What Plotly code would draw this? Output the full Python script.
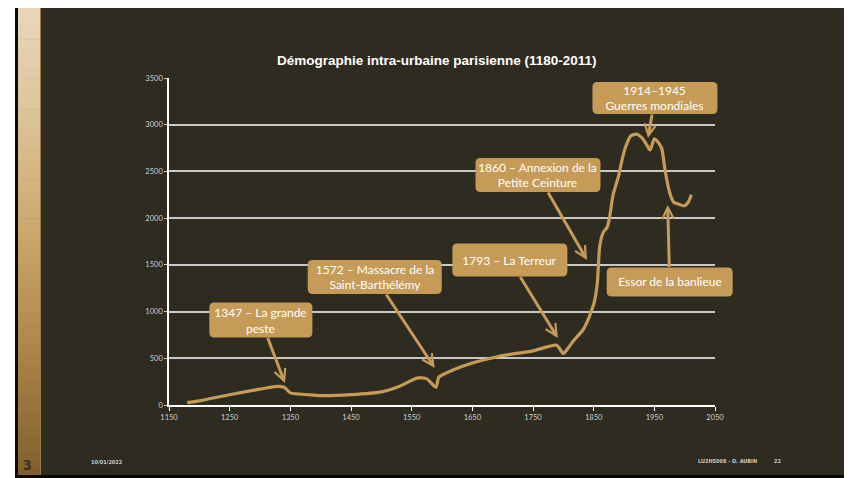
import plotly.graph_objects as go

# ---- data (population in thousands) ----
years = [1180, 1200, 1250, 1300, 1328, 1340, 1350, 1380, 1400, 1450, 1500, 1530,
         1560, 1575, 1590, 1595, 1620, 1650, 1680, 1700, 1750, 1789, 1800, 1808,
         1817, 1832, 1840, 1846, 1851, 1856, 1860, 1866, 1872, 1876, 1882, 1891,
         1896, 1902, 1911, 1921, 1926, 1931, 1936, 1943, 1950, 1954, 1962, 1968,
         1975, 1982, 1990, 1999, 2006, 2011]
population = [25, 45, 110, 170, 200, 190, 130, 110, 100, 110, 140, 200,
              290, 280, 190, 300, 380, 450, 500, 530, 580, 640, 550, 610,
              690, 800, 900, 1000, 1100, 1300, 1700, 1850, 1900, 2000, 2250, 2450,
              2600, 2750, 2880, 2900, 2880, 2850, 2800, 2730, 2850, 2830, 2750, 2500,
              2280, 2170, 2150, 2130, 2170, 2250]

x_ticks = [1150, 1250, 1350, 1450, 1550, 1650, 1750, 1850, 1950, 2050]
y_ticks = [0, 500, 1000, 1500, 2000, 2500, 3000, 3500]

# annotations: text, arrow-tip (year, value), box centre offset (px), box size (px)
ann_texts = ["1347 – La grande<br>peste",
             "1572 – Massacre de la<br>Saint-Barthélémy",
             "1793 – La Terreur",
             "1860 – Annexion de la<br>Petite Ceinture",
             "1914–1945<br>Guerres mondiales",
             "Essor de la banlieue"]
ann_x = [1341, 1588, 1791, 1839, 1939.5, 1972]
ann_y = [235, 396, 717, 1552, 2858, 2141]
ann_ax = [-24, -60, -48, -49, 7, 2]
ann_ay = [-63, -91, -78, -85, -40, 77]
ann_w = [103, 134, 115, 125, 125, 126]
ann_h = [35, 34, 33, 34, 32, 29]

# ---- geometry (reference pixel coords; page body has an 8px margin) ----
OFF = 8
W, H = 852, 478
L, R, T, B = 169, 715, 78, 405
XMIN, XMAX, YMIN, YMAX = 1150, 2050, 0, 3500

def pxx(px):
    return (px - L) / (R - L)

def pyy(py):
    return (B - py) / (B - T)

def dx2px(x):
    return L + (x - XMIN) / (XMAX - XMIN) * (R - L)

def dy2px(y):
    return B - (y - YMIN) / (YMAX - YMIN) * (B - T)

TAN = "#C69B58"
BG = "#2E2B21"

shapes = []
# slide frame
shapes.append(dict(type="rect", xref="paper", yref="paper", x0=pxx(15), x1=pxx(W + 5),
                   y0=pyy(H + 5), y1=pyy(5), fillcolor="#0A0A08", line_width=0, layer="below"))
shapes.append(dict(type="rect", xref="paper", yref="paper", x0=pxx(18), x1=pxx(W + 5),
                   y0=pyy(475), y1=pyy(8), fillcolor=BG, line_width=0, layer="below"))

# gradient strip on the left
stops = [(0.0, (233, 215, 186)), (0.25, (220, 193, 150)), (0.5, (202, 165, 106)),
         (0.75, (170, 131, 72)), (1.0, (128, 94, 44))]

def grad(t):
    for (t0, c0), (t1, c1) in zip(stops[:-1], stops[1:]):
        if t <= t1:
            f = (t - t0) / (t1 - t0) if t1 > t0 else 0
            return "rgb(%d,%d,%d)" % tuple(round(a + (b - a) * f) for a, b in zip(c0, c1))
    return "rgb(%d,%d,%d)" % stops[-1][1]

N = 60
top, bot = 8, 475
for i in range(N):
    y0 = top + (bot - top) * i / N
    y1 = top + (bot - top) * (i + 1) / N + 0.6
    shapes.append(dict(type="rect", xref="paper", yref="paper", x0=pxx(18), x1=pxx(41),
                       y0=pyy(min(y1, bot)), y1=pyy(y0), fillcolor=grad((i + 0.5) / N),
                       line_width=0, layer="below"))
shapes.append(dict(type="line", xref="paper", yref="paper", x0=pxx(40.5), x1=pxx(40.5),
                   y0=pyy(bot), y1=pyy(top), line=dict(color="#9C7A48", width=1), layer="below"))

# rounded boxes for annotations
def rounded(cx, cy, w, h, r=5):
    x0, x1 = cx - w / 2, cx + w / 2
    y0, y1 = cy - h / 2, cy + h / 2
    p = lambda x, y: "%.5f,%.5f" % (pxx(x), pyy(y))
    return ("M" + p(x0 + r, y0) + " L" + p(x1 - r, y0) + " Q" + p(x1, y0) + " " + p(x1, y0 + r) +
            " L" + p(x1, y1 - r) + " Q" + p(x1, y1) + " " + p(x1 - r, y1) +
            " L" + p(x0 + r, y1) + " Q" + p(x0, y1) + " " + p(x0, y1 - r) +
            " L" + p(x0, y0 + r) + " Q" + p(x0, y0) + " " + p(x0 + r, y0) + " Z")

annotations = []
for t, x, y, ax, ay, w, h in zip(ann_texts, ann_x, ann_y, ann_ax, ann_ay, ann_w, ann_h):
    cx = dx2px(x) + ax
    cy = dy2px(y) + ay
    shapes.append(dict(type="path", xref="paper", yref="paper", path=rounded(cx, cy, w, h),
                       fillcolor=TAN, line=dict(width=0), layer="above"))
    annotations.append(dict(x=x, y=y, xref="x", yref="y", ax=ax, ay=ay, text=t,
                            showarrow=True, arrowhead=5, arrowsize=0.75, arrowwidth=3,
                            arrowcolor=TAN, standoff=0, width=w, height=h, borderpad=0,
                            bgcolor="rgba(0,0,0,0)", align="center", valign="middle",
                            font=dict(family="Lato, Noto Sans, sans-serif", size=12,
                                      color="#FFFFFF")))

def label(text, x, y, font):
    return dict(text=text, xref="paper", yref="paper", x=pxx(x), y=pyy(y), showarrow=False,
                xanchor="center", yanchor="middle", font=font)

# title
annotations.append(label("<b>Démographie intra-urbaine parisienne (1180-2011)</b>", 437, 60,
                         dict(family="Liberation Sans, Arial, sans-serif", size=13.5,
                              color="#FFFFFF")))
# footer
foot = dict(family="DejaVu Sans Condensed, DejaVu Sans, sans-serif", size=5.5, color="#C8C8C8")
annotations.append(label("<b>10/01/2022</b>", 107, 462, foot))
annotations.append(label("<b>LU2HS008 - D. AUBIN</b>", 727, 461, foot))
annotations.append(label("<b>22</b>", 777, 461, foot))
annotations.append(label("<b>3</b>", 28, 465,
                         dict(family="DejaVu Sans Condensed, DejaVu Sans, sans-serif", size=14,
                              color="#3A3224")))

fig = go.Figure()
fig.add_trace(go.Scatter(x=years, y=population, mode="lines",
                         line=dict(color=TAN, width=3.2, shape="spline", smoothing=0.6),
                         hoverinfo="skip", showlegend=False))

tickfont = dict(family="Lato, Noto Sans, sans-serif", size=7.5, color="#CFCFCF")
fig.update_layout(
    width=W - OFF, height=H - OFF,
    margin=dict(l=L - OFF, r=W - R, t=T - OFF, b=H - B, pad=0),
    paper_bgcolor="#FFFFFF",
    plot_bgcolor="rgba(0,0,0,0)",
    shapes=shapes,
    annotations=annotations,
    showlegend=False,
    xaxis=dict(range=[XMIN, XMAX], tickvals=x_ticks, ticktext=[str(v) for v in x_ticks],
               showgrid=False, zeroline=False, showline=True, linecolor="#FFFFFF",
               linewidth=1.5, ticks="outside", ticklen=4, tickcolor="#FFFFFF",
               tickwidth=1, tickfont=tickfont, fixedrange=True),
    yaxis=dict(range=[YMIN, YMAX], tickvals=y_ticks, ticktext=[str(v) for v in y_ticks],
               showgrid=True, gridcolor="#C8C8C8", gridwidth=1.5, zeroline=False,
               showline=True, linecolor="#FFFFFF", linewidth=1.5, ticks="outside",
               ticklen=3, tickcolor="#C8C8C8", tickfont=tickfont, fixedrange=True),
)

fig.write_html("out.html")
